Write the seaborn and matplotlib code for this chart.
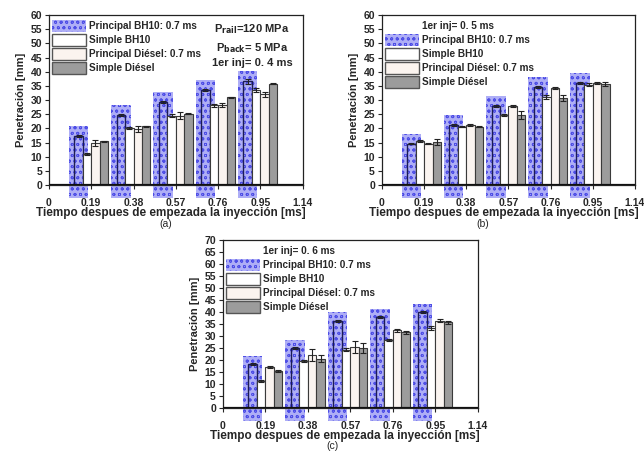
import numpy as np
import pandas as pd
import matplotlib
matplotlib.use("Agg")
import matplotlib.pyplot as plt
from matplotlib.patches import Patch, Rectangle
import seaborn as sns

# tiempos (ms) y series
tiempos = [0.19, 0.38, 0.57, 0.76, 0.95]
series = ["Principal BH10", "Simple BH10", "Principal Diésel", "Simple Diésel"]
etiquetas = ["Principal BH10: 0.7 ms", "Simple BH10", "Principal Diésel: 0.7 ms", "Simple Diésel"]
xticks = [0, 0.19, 0.38, 0.57, 0.76, 0.95, 1.14]
xtick_labels = ["0", "0.19", "0.38", "0.57", "0.76", "0.95", "1.14"]

# (a) 1er inj = 0.4 ms
a_principal_bh10 = [17.3, 24.6, 29.3, 33.6, 36.6]
a_simple_bh10 = [11.0, 20.0, 24.5, 28.2, 33.6]
a_principal_diesel = [14.8, 19.8, 24.5, 28.2, 32.0]
a_simple_diesel = [15.5, 20.7, 25.2, 31.0, 35.7]
a_err = [[0.3, 0.3, 0.4, 0.4, 0.8], [0.3, 0.4, 0.4, 0.5, 0.8],
         [1.2, 1.0, 1.2, 0.8, 1.0], [0.2, 0.2, 0.3, 0.2, 0.2]]

# (b) 1er inj = 0.5 ms
b_principal_bh10 = [14.5, 21.2, 28.0, 34.5, 36.0]
b_simple_bh10 = [15.5, 20.6, 24.8, 31.0, 35.4]
b_principal_diesel = [14.5, 21.2, 28.0, 34.3, 36.1]
b_simple_diesel = [15.2, 20.6, 24.7, 30.6, 35.6]
b_err = [[0.2, 0.2, 0.3, 0.4, 0.5], [0.3, 0.3, 0.4, 0.6, 0.5],
         [0.2, 0.2, 0.3, 0.3, 0.4], [1.2, 0.3, 1.5, 1.0, 0.6]]

# (c) 1er inj = 0.6 ms
c_principal_bh10 = [18.3, 25.0, 36.4, 37.8, 40.0]
c_simple_bh10 = [11.2, 19.5, 24.3, 28.3, 33.5]
c_principal_diesel = [17.0, 22.0, 25.5, 32.3, 36.3]
c_simple_diesel = [15.6, 20.5, 25.0, 31.5, 35.7]
c_err = [[0.3, 0.3, 0.4, 0.4, 0.5], [0.4, 0.5, 0.6, 0.5, 0.8],
         [0.4, 2.5, 2.5, 0.6, 0.6], [0.4, 1.5, 2.0, 0.6, 0.6]]

colores = {"Principal BH10": "white", "Simple BH10": "white",
           "Principal Diésel": "#fbf4ef", "Simple Diésel": "#9c9c9c"}
azul_fondo = "#aeaef6"
azul_punto = "#4e4ee6"

sns.set_style("ticks")
plt.rcParams["font.family"] = ["Liberation Sans", "DejaVu Sans"]
plt.rcParams["font.weight"] = "bold"
plt.rcParams["hatch.linewidth"] = 0.6


def draw_panel(ax, valores, errores, ymax, letra, letra_x, inj_text, nota=None):
    df = pd.DataFrame({
        "tiempo": np.tile(tiempos, len(series)),
        "pen": np.concatenate(valores),
        "serie": np.repeat(series, len(tiempos)),
    })
    sns.barplot(data=df, x="tiempo", y="pen", hue="serie", hue_order=series,
                palette=colores, native_scale=True, errorbar=None,
                edgecolor="#3a3a3a", linewidth=0.8, legend=False, ax=ax, zorder=3)

    barras = list(ax.containers)
    for i, cont in enumerate(barras):
        for j, bar in enumerate(cont):
            cx = bar.get_x() + bar.get_width() / 2
            h = bar.get_height()
            ax.errorbar(cx, h, yerr=errores[i][j], fmt="none", ecolor="#222222",
                        elinewidth=0.8, capsize=2.2, capthick=0.8, zorder=4)
            if i == 0:
                bar.set_facecolor("none")
                bar.set_edgecolor("#1c1c55")
                bar.set_linewidth(1.0)
                bottom = -0.075 * ymax
                ax.add_patch(Rectangle((bar.get_x() - 0.025, bottom),
                                       bar.get_width() + 0.05, h + 3.5 - bottom,
                                       facecolor=azul_fondo, edgecolor=azul_punto,
                                       hatch="ooo", lw=0, clip_on=False, zorder=1))

    ax.set_xlim(0, 1.14)
    ax.set_ylim(0, ymax)
    ax.set_xticks(xticks)
    ax.set_xticklabels(xtick_labels)
    ax.set_yticks(np.arange(0, ymax + 1, 5))
    ax.tick_params(axis="both", labelsize=7.5, length=3, width=0.8, pad=2)
    ax.tick_params(axis="x", pad=6)
    for sp in ax.spines.values():
        sp.set_visible(True)
        sp.set_color("#222222")
        sp.set_linewidth(0.9)
    ax.axhline(0, color="#111111", lw=1.6, zorder=5)
    ax.set_xlabel("")
    ax.set_ylabel("Penetración [mm]", fontsize=8, fontweight="bold", labelpad=3)
    ax.text(0.48, -0.165, "Tiempo despues de empezada la inyección [ms]",
            transform=ax.transAxes, ha="center", va="center", fontsize=8.5,
            fontweight="bold")
    ax.text(letra_x, -0.228, letra, transform=ax.transAxes, ha="center",
            va="center", fontsize=7.5, fontweight="normal")

    handles = []
    if inj_text:
        handles.append(Patch(facecolor="none", edgecolor="none", label=inj_text))
    handles += [
        Patch(facecolor=azul_fondo, edgecolor=azul_punto, hatch="ooo", lw=0,
              label=etiquetas[0]),
        Patch(facecolor="white", edgecolor="#555555", label=etiquetas[1]),
        Patch(facecolor=colores["Principal Diésel"], edgecolor="#555555", label=etiquetas[2]),
        Patch(facecolor=colores["Simple Diésel"], edgecolor="#555555", label=etiquetas[3]),
    ]
    leg = ax.legend(handles=handles, loc="upper left", bbox_to_anchor=(0.0, 0.99),
                    frameon=False, fontsize=7.2, handlelength=3.4, handleheight=1.45,
                    labelspacing=0.22, handletextpad=0.35, borderaxespad=0.1,
                    borderpad=0.2)
    for t in leg.get_texts():
        t.set_fontweight("bold")

    if nota:
        ax.text(0.80, 0.955, nota, transform=ax.transAxes, ha="center", va="top",
                fontsize=8, fontweight="bold", linespacing=1.45)


fig = plt.figure(figsize=(6.44, 4.54), dpi=100)
ax_a = fig.add_axes([0.076, 0.5925, 0.394, 0.3744])
ax_b = fig.add_axes([0.593, 0.5925, 0.393, 0.3744])
ax_c = fig.add_axes([0.346, 0.1013, 0.396, 0.370])

draw_panel(ax_a, [a_principal_bh10, a_simple_bh10, a_principal_diesel, a_simple_diesel],
           a_err, 60, "(a)", 0.46, None,
           nota="P$_{\\mathbf{rail}}$=120 MPa\nP$_{\\mathbf{back}}$= 5 MPa\n1er inj= 0. 4 ms")
draw_panel(ax_b, [b_principal_bh10, b_simple_bh10, b_principal_diesel, b_simple_diesel],
           b_err, 60, "(b)", 0.40, "1er inj= 0. 5 ms")
draw_panel(ax_c, [c_principal_bh10, c_simple_bh10, c_principal_diesel, c_simple_diesel],
           c_err, 70, "(c)", 0.43, "1er inj= 0. 6 ms")

fig.savefig("out.png", dpi=100)
